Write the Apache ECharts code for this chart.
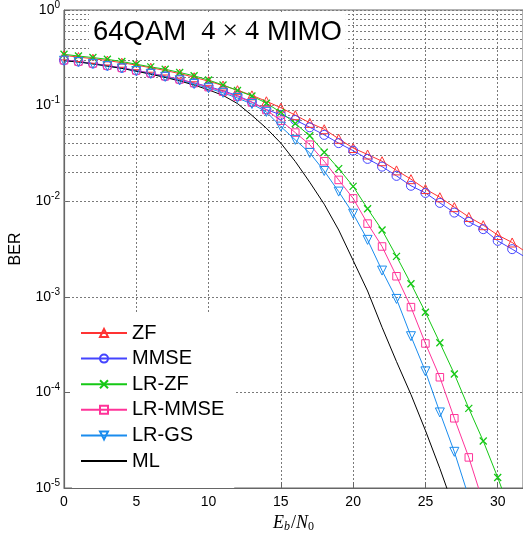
<!DOCTYPE html>
<html>
<head>
<meta charset="utf-8">
<script src="https://cdn.jsdelivr.net/npm/echarts@6/dist/echarts.min.js"></script>
<style>
  html, body { margin: 0; padding: 0; background: #fff; }
  #chart { width: 523px; height: 538px; }
</style>
</head>
<body>
<div id="chart"></div>
<script>
// Eb/N0 in dB
const snr = [0,1,2,3,4,5,6,7,8,9,10,11,12,13,14,15,16,17,18,19,20,21,22,23,24,25,26,27,28,29,30,31,32];

const berZF = [0.335,0.322,0.309,0.296,0.281,0.265,0.249,0.233,0.216,0.198,0.180,0.162,0.145,0.128,0.111,0.095,0.0794,0.066,0.0566,0.045,0.036,0.0308,0.0262,0.021,0.017,0.0134,0.011,0.00867,0.00684,0.00561,0.00443,0.0037,0.0029];
const berMMSE = [0.298,0.289,0.276,0.262,0.248,0.233,0.218,0.203,0.188,0.173,0.158,0.143,0.127,0.109,0.091,0.080,0.0707,0.0593,0.0494,0.0405,0.0338,0.0277,0.023,0.0184,0.0145,0.0122,0.0096,0.0076,0.00608,0.0051,0.00385,0.00315,0.00255];
const berLRZF = [0.344,0.330,0.318,0.305,0.289,0.271,0.254,0.240,0.222,0.205,0.185,0.164,0.144,0.126,0.106,0.085,0.065,0.0483,0.0325,0.0219,0.0143,0.00834,0.00499,0.00265,0.00137,6.89e-4,3.3e-4,1.56e-4,6.8e-5,3.1e-5,1.29e-5,5e-6];
const berLRMMSE = [0.298,0.289,0.276,0.262,0.248,0.233,0.218,0.203,0.188,0.172,0.156,0.140,0.124,0.108,0.090,0.0695,0.0522,0.039,0.0262,0.0167,0.0107,0.00583,0.00336,0.00164,7.8e-4,3.25e-4,1.44e-4,5.36e-5,2.09e-5,7e-6];
const berLRGS = [0.295,0.286,0.273,0.259,0.245,0.230,0.215,0.200,0.184,0.168,0.152,0.136,0.120,0.104,0.086,0.0603,0.0438,0.032,0.0207,0.0126,0.0074,0.00394,0.00188,9.5e-4,3.87e-4,1.66e-4,6.17e-5,2.39e-5,8e-6];
const berML = [0.295,0.286,0.273,0.259,0.245,0.229,0.213,0.197,0.181,0.164,0.146,0.128,0.105,0.079,0.058,0.0405,0.026,0.0158,0.0093,0.005,0.0024,0.00115,4.8e-4,2.1e-4,9.5e-5,4e-5,1.6e-5,6e-6];

const decades = [-5, -4, -3, -2, -1];
const minorSteps = [2, 3, 4, 5, 6, 7, 8, 9];

const gridColor = '#7a7a7a';
const sans = 'Liberation Sans';
const serif = 'Liberation Serif';

function pairs(arr) {
  return arr.map((v, i) => [snr[i], v]);
}

const minorLines = [];
decades.forEach(d => {
  minorSteps.forEach(m => minorLines.push({ yAxis: m * Math.pow(10, d) }));
});

function curve(name, arr, color, symbol, size, extra) {
  return Object.assign({
    name: name,
    type: 'line',
    data: pairs(arr),
    symbol: symbol,
    symbolSize: size,
    showAllSymbol: true,
    clip: true,
    lineStyle: { color: color, width: 1 },
    itemStyle: { color: 'rgba(255,255,255,0)', borderColor: color, borderWidth: 1 },
    emphasis: { disabled: true }
  }, extra || {});
}

const chart = echarts.init(document.getElementById('chart'));

chart.setOption({
  animation: false,
  backgroundColor: '#fff',
  title: {
    text: '{a|64QAM}{b|4 × 4}{a|MIMO}',
    left: 89,
    top: 13,
    padding: [5, 4, 3, 4],
    backgroundColor: '#fff',
    textStyle: {
      rich: {
        a: { fontFamily: sans, fontSize: 27.5, fontWeight: 'normal', color: '#000' },
        b: { fontFamily: serif, fontSize: 28, fontWeight: 'normal', color: '#000', padding: [0, 8, 0, 15] }
      }
    }
  },
  legend: {
    orient: 'vertical',
    left: 72,
    top: 313,
    padding: [10, 10, 17, 8],
    itemWidth: 46,
    itemHeight: 10,
    itemGap: 5.6,
    backgroundColor: '#fff',
    data: ['ZF', 'MMSE', 'LR-ZF', 'LR-MMSE', 'LR-GS', { name: 'ML', itemStyle: { opacity: 0 } }],
    textStyle: { fontFamily: sans, fontSize: 20, color: '#000' }
  },
  grid: {
    left: 62,
    right: 0,
    top: 5,
    bottom: 48,
    show: true,
    borderColor: '#666',
    borderWidth: 1
  },
  xAxis: {
    type: 'value',
    min: 0,
    max: 31.75,
    interval: 5,
    name: '{i|E}{is|b}{u|/}{i|N}{us|0}',
    nameLocation: 'middle',
    nameGap: 25,
    nameTextStyle: {
      rich: {
        i: { fontFamily: serif, fontStyle: 'italic', fontSize: 18, color: '#000' },
        u: { fontFamily: serif, fontSize: 18, color: '#000' },
        is: { fontFamily: serif, fontStyle: 'italic', fontSize: 12, color: '#000', padding: [8, 1, 0, 0] },
        us: { fontFamily: serif, fontSize: 12, color: '#000', padding: [8, 0, 0, 0] }
      }
    },
    axisLine: { show: true, lineStyle: { color: '#666', width: 1.2 } },
    axisTick: { show: true, inside: true, length: 6, lineStyle: { color: '#666' } },
    axisLabel: { fontFamily: sans, fontSize: 14, color: '#000', margin: 7, showMaxLabel: false },
    splitLine: { show: true, lineStyle: { color: gridColor, type: [2, 2], width: 1 } }
  },
  yAxis: {
    type: 'log',
    logBase: 10,
    min: 1e-5,
    max: 1,
    name: 'BER',
    nameLocation: 'middle',
    nameGap: 40,
    nameRotate: 90,
    nameTextStyle: { fontFamily: sans, fontSize: 16, color: '#000' },
    axisLine: { show: true, lineStyle: { color: '#666', width: 1.2 } },
    axisTick: { show: true, inside: true, length: 6, lineStyle: { color: '#666' } },
    axisLabel: {
      margin: 4,
      formatter: v => '{b|10}{s|' + Math.round(Math.log10(v)) + '}',
      rich: {
        b: { fontFamily: sans, fontSize: 14, color: '#000' },
        s: { fontFamily: sans, fontSize: 10, color: '#000', padding: [0, 0, 10, 0] }
      }
    },
    splitLine: { show: true, lineStyle: { color: gridColor, type: [2, 2], width: 1 } }
  },
  series: [
    curve('ZF', berZF, '#ff3333', 'triangle', 9),
    curve('MMSE', berMMSE, '#4444ff', 'circle', 9),
    curve('LR-ZF', berLRZF, '#15c815', 'path://M0,0L10,10M10,0L0,10', 7,
      { itemStyle: { color: 'rgba(255,255,255,0)', borderColor: '#15c815', borderWidth: 1.3 } }),
    curve('LR-MMSE', berLRMMSE, '#ff3399', 'rect', 7.5),
    curve('LR-GS', berLRGS, '#1a8cee', 'triangle', 9, { symbolRotate: 180 }),
    {
      name: 'ML',
      type: 'line',
      data: pairs(berML),
      symbol: 'none',
      clip: true,
      lineStyle: { color: '#000', width: 1 },
      itemStyle: { color: '#000' },
      emphasis: { disabled: true },
      markLine: {
        silent: true,
        z: 1,
        symbol: ['none', 'none'],
        label: { show: false },
        lineStyle: { color: gridColor, type: [2, 2], width: 1 },
        emphasis: { disabled: true },
        data: minorLines
      }
    }
  ]
});
</script>
</body>
</html>
